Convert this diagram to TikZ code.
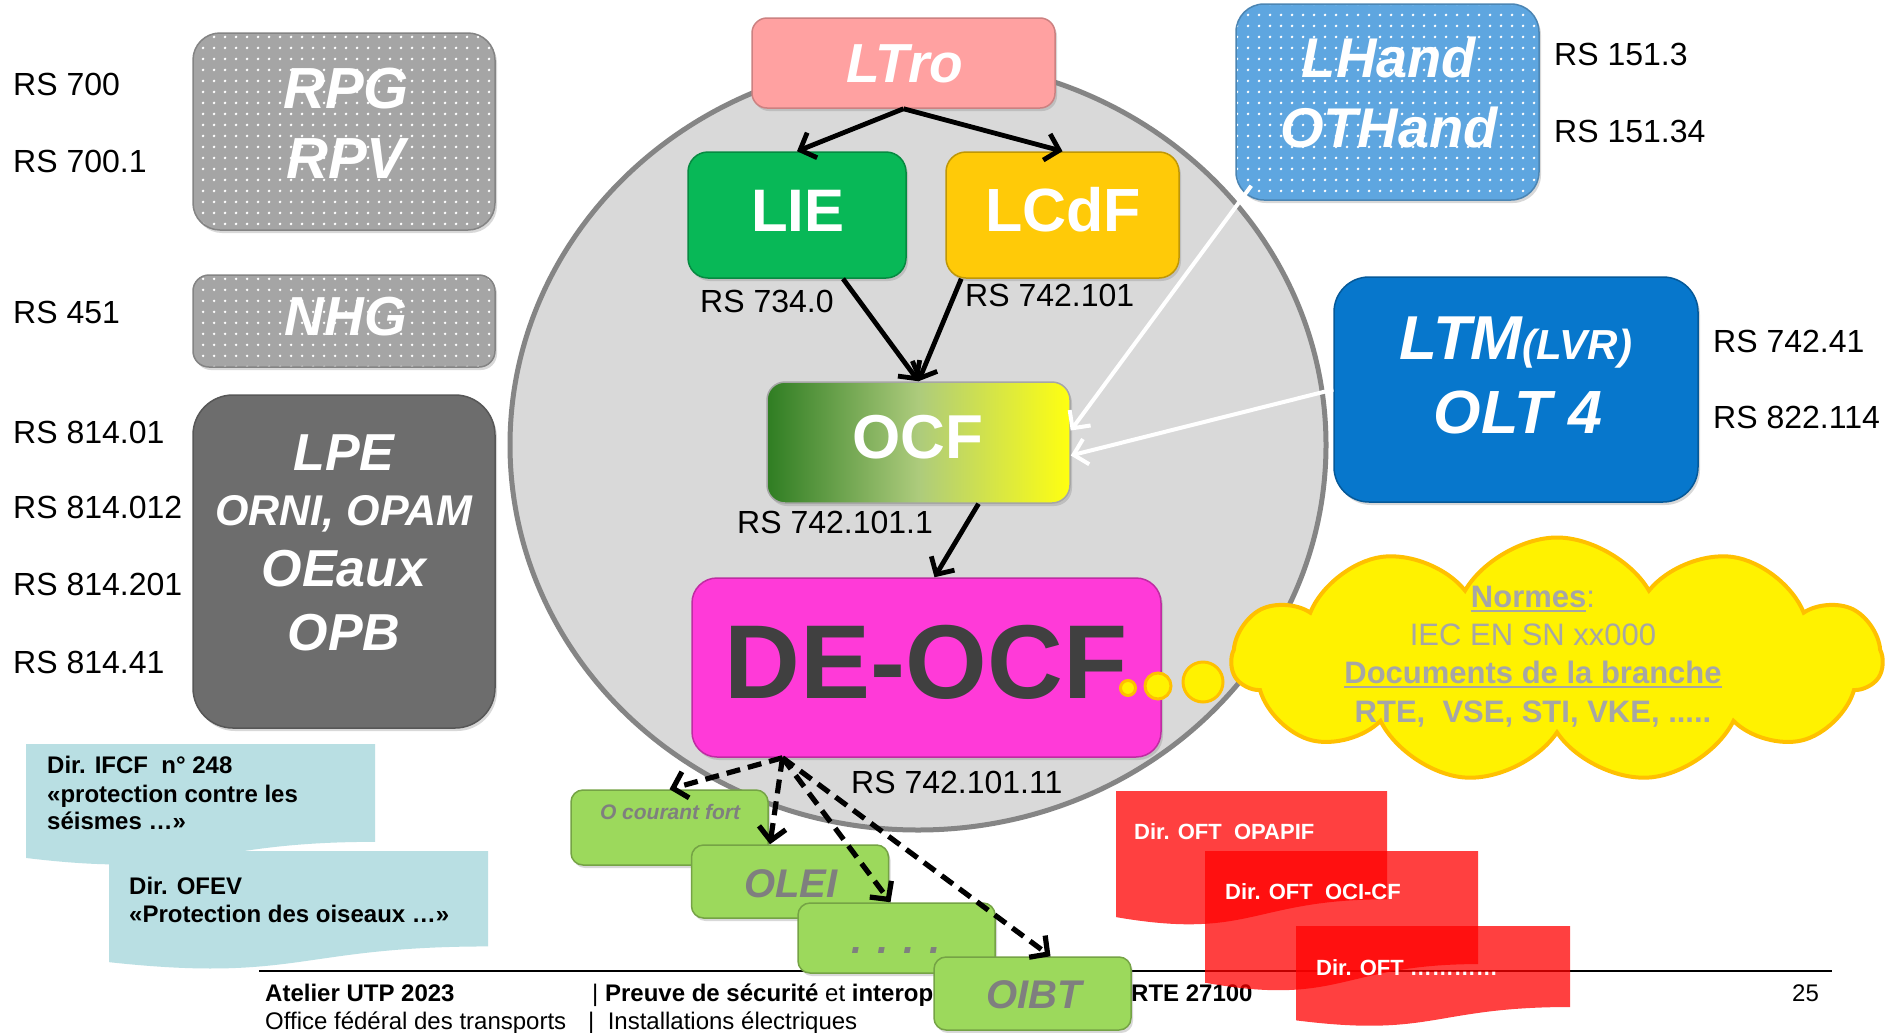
\documentclass[tikz,border=0pt]{standalone}
\usepackage{fontspec}
\setmainfont{Liberation Sans}
\usetikzlibrary{arrows.meta,shapes.symbols,shadows,patterns,calc}
\newcommand\fsz[1]{\fontsize{#1bp}{#1bp}\selectfont}
\pgfdeclarepatternformonly{wdots}{\pgfpointorigin}{\pgfpoint{11bp}{11bp}}{\pgfpoint{11bp}{11bp}}{\pgfpathcircle{\pgfpoint{5.5bp}{5.5bp}}{1.5bp}\pgfusepath{fill}}
\definecolor{circfill}{HTML}{D9D9D9}
\definecolor{circline}{HTML}{858585}
\definecolor{rpgc}{HTML}{A5A5A5}
\definecolor{lpec}{HTML}{6D6D6D}
\definecolor{ltroc}{HTML}{FFA1A1}
\definecolor{liec}{HTML}{08B857}
\definecolor{lcdfc}{HTML}{FFCA08}
\definecolor{ocfd}{HTML}{2F7D22}
\definecolor{ocfm}{HTML}{ADCB7C}
\definecolor{ocfy}{HTML}{FFFF10}
\definecolor{deocfc}{HTML}{FF3AD8}
\definecolor{lhandc}{HTML}{5EA6E0}
\definecolor{ltmc}{HTML}{0777CC}
\definecolor{grc}{HTML}{9CD95C}
\definecolor{grtext}{HTML}{7F7F7F}
\definecolor{tealc}{HTML}{B9DFE3}
\definecolor{cloudline}{HTML}{FFC000}
\definecolor{cloudtext}{HTML}{A6A6A6}
\definecolor{dkgray}{HTML}{404040}
% document shape: style, x1, y1, x2, h
\newcommand\docshape[5]{%
 \path[#1] (#2,#3) -- (#4,#3) -- (#4,{#3+0.802*#5})
   .. controls ({(#2+#4)/2},{#3+0.802*#5}) and ({(#2+#4)/2},{#3+1.1075*#5}) .. (#2,{#3+0.934*#5}) -- cycle;}
\begin{document}
\begin{tikzpicture}[x=1bp,y=-1bp,
  bx/.style={rounded corners=#1, inner sep=0,
    drop shadow={shadow xshift=2bp, shadow yshift=-3bp, opacity=0.3}},
  t/.style={inner sep=0, anchor=base},
  tw/.style={inner sep=0, anchor=base west},
  rs/.style={tw, font=\fsz{32}},
  bi/.style={t, text=white, font=\bfseries\itshape\fsz{#1}},
  bb/.style={t, text=white, font=\bfseries\fsz{#1}},
  gt/.style={t, text=grtext, font=\bfseries\itshape\fsz{#1}},
  teal/.style={tw, font=\bfseries\fsz{24}},
  redt/.style={tw, text=white, font=\bfseries\fsz{22}},
  ft/.style={tw, font=\fsz{24}},
  ct/.style={t, text=cloudtext, font=\fsz{31}},
  blk/.style={draw=black, line width=4.8bp, -{Straight Barb[length=13bp,width=27bp]}},
  wht/.style={draw=white, line width=4bp, -{Straight Barb[length=13bp,width=26bp]}},
  dsh/.style={blk, line width=5.2bp, dash pattern=on 14bp off 8bp},
  grbox/.style={bx=12bp, fill=grc, draw=grc!75!black, line width=1.5bp, minimum width=197bp},
  bub/.style={fill=yellow, draw=cloudline, line width=3bp}
]
\path[use as bounding box] (0,0) rectangle (1892,1032);
\clip (0,0) rectangle (1892,1032);
\fill[white] (0,0) rectangle (1892,1032);

% big circle
\draw[fill=circfill, draw=circline, line width=5bp] (918,445) ellipse [x radius=408bp, y radius=385bp];

% teal notes
\docshape{fill=tealc}{26}{744}{375}{122}
\docshape{fill=tealc}{109}{851}{488}{119}
\node[teal] (ifcf1) at (47,773) {Dir. IFCF\ \ n° 248};
\node[teal] (ifcf2) at (47,802) {«protection contre les};
\node[teal] (ifcf3) at (47,829) {séismes …»};
\node[teal] (ofev1) at (129,894) {Dir. OFEV};
\node[teal] (ofev2) at (129,922) {«Protection des oiseaux …»};

% left boxes
\node[bx=27bp, preaction={fill=rpgc}, pattern=wdots, pattern color=white, draw=rpgc!80!black, line width=1.5bp,
      minimum width=302bp, minimum height=197bp] (rpg) at (344,131.5) {};
\node[bi=58] (rpgt) at (346,108) {RPG};
\node[bi=58] (rpvt) at (346,178) {RPV};
\node[bx=16bp, preaction={fill=rpgc}, pattern=wdots, pattern color=white, draw=rpgc!80!black, line width=1.5bp,
      minimum width=302bp, minimum height=92bp] (nhg) at (344,321) {};
\node[bi=55] (nhgt) at (346,335) {NHG};
\node[bx=40bp, fill=lpec, draw=lpec!80!black, line width=1.5bp,
      minimum width=302bp, minimum height=333bp] (lpe) at (344,561.5) {};
\node[bi=52] (lpet) at (344,470) {LPE};
\node[bi=43] (ornit) at (344,525) {ORNI, OPAM};
\node[bi=52] (oeauxt) at (344,586) {OEaux};
\node[bi=52] (opbt) at (344,650) {OPB};

\node[rs] (rs700) at (13,95) {RS 700};
\node[rs] (rs7001) at (13,172) {RS 700.1};
\node[rs] (rs451) at (13,323) {RS 451};
\node[rs] (rs81401) at (13,443) {RS 814.01};
\node[rs] (rs814012) at (13,518) {RS 814.012};
\node[rs] (rs814201) at (13,595) {RS 814.201};
\node[rs] (rs81441) at (13,673) {RS 814.41};

% central boxes
\node[bx=15bp, fill=ltroc, draw=ltroc!80!black, line width=1.5bp, minimum width=303bp, minimum height=90bp] (ltro) at (903.5,63) {};
\node[bi=55] (ltrot) at (905,82) {LTro};
\node[bx=20bp, fill=liec, draw=liec!75!black, line width=1.5bp, minimum width=218bp, minimum height=126bp] (lie) at (797,215) {};
\node[bb=60] (liet) at (798,231) {LIE};
\node[bx=20bp, fill=lcdfc, draw=lcdfc!75!black, line width=1.5bp, minimum width=233bp, minimum height=126bp] (lcdf) at (1062.5,215) {};
\node[bb=61] (lcdft) at (1063,231) {LCdF};
\node[bx=18bp, left color=ocfd, right color=ocfy, middle color=ocfm, draw=black!35, line width=1.5bp,
      minimum width=303bp, minimum height=121bp] (ocf) at (918.5,442.5) {};
\node[bb=62] (ocft) at (918,458) {OCF};
\node[bx=25bp, fill=deocfc, draw=deocfc!75!black, line width=1.5bp, minimum width=469bp, minimum height=179bp] (deocf) at (926.5,667.5) {};
\node[t, text=dkgray, font=\bfseries\fsz{105}] (deocft) at (926,698) {DE-OCF};

\node[rs] (rs7340) at (700,312) {RS 734.0};
\node[rs] (rs742101) at (965,306) {RS 742.101};
\node[rs] (rs7421011) at (737,533) {RS 742.101.1};
\node[rs] (rs74210111) at (851,793) {RS 742.101.11};

% right boxes
\node[bx=28bp, preaction={fill=lhandc}, pattern=wdots, pattern color=white, draw=lhandc!80!black, line width=1.5bp,
      minimum width=303bp, minimum height=196bp] (lhand) at (1387.5,102) {};
\node[bi=56] (lhandt) at (1389,77) {LHand};
\node[bi=56] (othandt) at (1389,147) {OTHand};
\node[rs] (rs1513) at (1554,65) {RS 151.3};
\node[rs] (rs15134) at (1554,142) {RS 151.34};
\node[bx=35bp, fill=ltmc, draw=ltmc!75!black, line width=1.5bp, minimum width=364bp, minimum height=225bp] (ltm) at (1516,389.5) {};
\node[bi=62] (ltmt) at (1516,359) {LTM{\fsz{42}(LVR)}};
\node[bi=61] (olt4t) at (1518,433) {OLT 4};
\node[rs] (rs74241) at (1713,352) {RS 742.41};
\node[rs] (rs822114) at (1713,428) {RS 822.114};

% arrows
\draw[blk] (ltro.south) -- (lie.north);
\draw[blk] (ltro.south) -- (lcdf.north);
\draw[blk] ([xshift=46bp]lie.south) -- (ocf.north);
\draw[blk] ([xshift=16bp]lcdf.south west) -- (ocf.north);
\draw[blk] ([xshift=60bp]ocf.south) -- ([xshift=8bp]deocf.north);
\draw[wht] ([xshift=16bp,yshift=15bp]lhand.south west) -- ([yshift=12bp]ocf.east);
\draw[wht] (ltm.west) -- ([yshift=-13bp]ocf.east);

% footer
\draw[line width=2bp] (259,971) -- (1832,971);
\node[ft, font=\bfseries\fsz{24}] (atelier) at (265,1001) {Atelier UTP 2023};
\node[ft] (oft) at (265,1029) {Office fédéral des transports};
\node[ft] (preuve) at (592,1001) {| \textbf{Preuve de sécurité} et \textbf{interop}};
\node[ft] (install) at (588,1029) {|\ \ Installations électriques};
\node[ft, font=\bfseries\fsz{24}] (rte) at (1131,1001) {RTE 27100};
\node[ft] (page) at (1792,1001) {25};

% green boxes
\node[grbox, minimum height=75bp] (oc) at (669.5,827.5) {};
\node[gt=21] (oct) at (670,819) {O courant fort};
\node[grbox, minimum height=73bp] (olei) at (790,881.5) {};
\node[gt=40] (oleit) at (791,897) {OLEI};
\node[grbox, minimum height=70bp] (dotsb) at (896.5,938) {};
\node[gt=40] (dotst) at (896,953) {. . . .};
\node[grbox, minimum height=73bp] (oibt) at (1032.5,993.5) {};
\node[gt=40] (oibtt) at (1034,1008) {OIBT};

\coordinate (apex) at ([xshift=-144bp]deocf.south);
\draw[dsh] (apex) -- (oc.north);
\draw[dsh] (apex) -- ([xshift=-20bp]olei.north);
\draw[dsh] (apex) -- ([xshift=-6bp]dotsb.north);
\draw[dsh] (apex) -- ([xshift=18bp]oibt.north);

% red notes
\docshape{fill=red, fill opacity=0.75}{1116}{791}{1387}{135}
\node[redt] (oft1) at (1134,839) {Dir. OFT\ \ OPAPIF};
\docshape{fill=red, fill opacity=0.75}{1205}{851}{1478}{141}
\node[redt] (oft2) at (1225,899) {Dir. OFT\ \ OCI-CF};
\docshape{fill=red, fill opacity=0.75}{1296}{926}{1570}{101}
\node[redt] (oft3) at (1316,975) {Dir. OFT …………};

% bubbles and cloud
\node[bub, circle, minimum size=15bp, inner sep=0] (b1) at (1128,688) {};
\node[bub, circle, minimum size=26bp, inner sep=0] (b2) at (1158,686) {};
\node[bub, circle, minimum size=40bp, inner sep=0] (b3) at (1203,682) {};
\node[cloud, cloud puffs=11, cloud puff arc=120, aspect=2.6, fill=yellow, draw=cloudline, line width=4bp,
      minimum width=650bp, minimum height=245bp, inner sep=0] (cloud) at (1557,660) {};
\node[ct, font=\bfseries\fsz{31}] (normes) at (1533,607) {Normes\mdseries:};
\draw[cloudtext, line width=2.5bp] ([yshift=-4bp]normes.base west) -- ([xshift=-9bp,yshift=-4bp]normes.base east);
\node[ct] (iec) at (1533,645) {IEC EN SN xx000};
\node[ct, font=\bfseries\fsz{31}] (docs) at (1533,683) {Documents de la branche};
\draw[cloudtext, line width=2.5bp] ([yshift=-4bp]docs.base west) -- ([yshift=-4bp]docs.base east);
\node[ct, font=\bfseries\fsz{31}] (rtes) at (1533,722) {RTE,\ \ VSE, STI, VKE, .....};
\end{tikzpicture}
\end{document}
